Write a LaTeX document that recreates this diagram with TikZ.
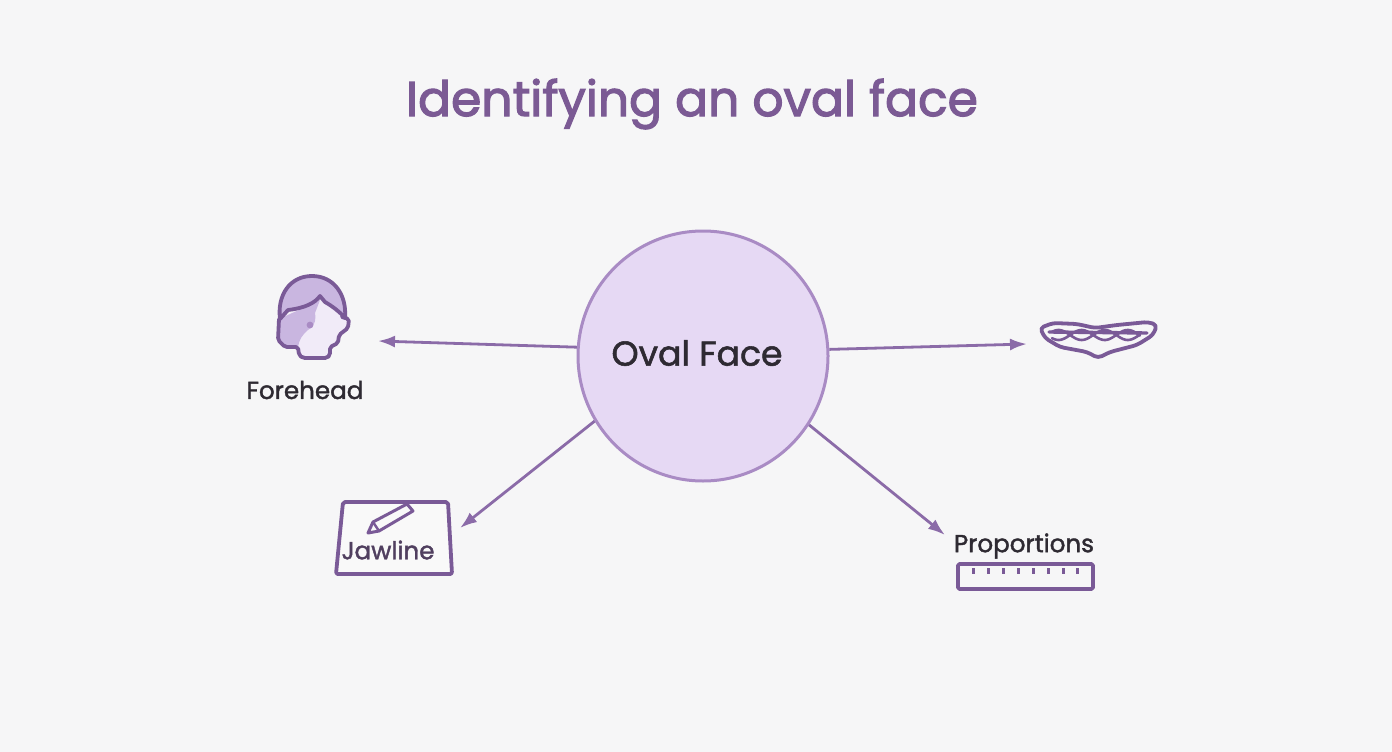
\documentclass[tikz,border=0pt]{standalone}
\usepackage{fontspec}
\setmainfont{Poppins}
\newcommand{\heavy}{\addfontfeature{FakeBold=1.6}}
\usetikzlibrary{arrows.meta}
\definecolor{bgcol}{HTML}{F6F6F7}
\definecolor{circfill}{HTML}{E6D9F4}
\definecolor{circline}{HTML}{A98BC4}
\definecolor{arrowcol}{HTML}{8B6BA8}
\definecolor{iconcol}{HTML}{7A5A97}
\definecolor{hairfill}{HTML}{C9B6E0}
\definecolor{skinfill}{HTML}{F1EBF8}
\definecolor{titlecol}{HTML}{7B5A94}
\definecolor{textcol}{HTML}{2E2A32}
\begin{document}
\begin{tikzpicture}[x=1pt, y=-1pt,
  lbl/.style={font=\fontsize{24.6}{28}\selectfont\heavy, text=textcol, inner sep=0pt},
  conn/.style={-{Latex[length=17pt,width=12pt]}, line width=2.8pt, draw=arrowcol},
  icon/.style={line width=3.8pt, draw=iconcol, line join=round, line cap=round}]
\useasboundingbox (0,0) rectangle (1392,752);
\fill[bgcol] (0,0) rectangle (1392,752);
\node[inner sep=0pt, text=titlecol, font=\fontsize{48.8}{54}\selectfont\addfontfeature{FakeBold=2.4}] (Title) at (692,104) {Identifying an oval face};
\node[circle, draw=circline, fill=circfill, line width=3pt, minimum size=250pt, inner sep=0pt] (N0) at (703,356) {};
\node[inner sep=0pt, text=textcol, font=\fontsize{34.6}{40}\selectfont\heavy] (Centre) at (697,353) {Oval Face};
\coordinate (E1) at (378,341);
\coordinate (E2) at (1027,344);
\coordinate (E3) at (460,528);
\coordinate (E4) at (945,535);
\draw[conn] (N0.176.8) -- (E1);
\draw[conn] (N0.3.6) -- (E2);
\draw[conn] (N0.211.7) -- (E3);
\draw[conn] (N0.327) -- (E4);
% head
\fill[skinfill] (278,320) -- (278,340) -- (285,347) -- (298,347) -- (299,355) -- (303,358) -- (327,358) -- (330,355) -- (330,347) -- (338,343) -- (339,335) -- (348,328) -- (349,319) -- (342,317) -- (320,296) -- (280,319) -- cycle;
\fill[hairfill] (279,319) -- (278,340) -- (285,347) -- (298,347) .. controls (299,340) and (302,335) .. (308,330) .. controls (316,325) and (316,318) .. (315,313) -- (320,300) -- (310,305) -- cycle;
\fill[hairfill, draw=iconcol, line width=3.8pt, line join=round] (280,319) .. controls (277,295) and (290,276) .. (312,276) .. controls (334,276) and (347,295) .. (345,318) .. controls (340,312) and (332,306) .. (325,302) -- (320,296) .. controls (315,303) and (305,308) .. (288,310) -- cycle;
\draw[icon, rounded corners=2pt] (279,319) -- (278,340) -- (285,347) -- (298,347) -- (299,355) -- (303,358) -- (327,358) -- (330,355) -- (330,347) -- (338,343) -- (339,335) -- (348,328) -- (349,319) -- (342,317);
\fill[circline] (310,325) circle (3.4);
\node[lbl] (Forehead) at (305,390) {Forehead};
% mouth
\draw[icon, rounded corners=4pt] (1040,328) -- (1053,323) -- (1077,324) -- (1095,328) -- (1117,325) -- (1148,322) -- (1157,325) -- (1153,335) -- (1137,345) -- (1110,352) -- (1098,358) -- (1087,352) -- (1060,347) -- (1045,338) -- cycle;
\draw[icon, line width=3.4pt] (1049,332) -- (1147,333);
\draw[icon, line width=2.6pt] plot[domain=1052:1140, samples=60, smooth] (\x,{335+5*sin((\x-1047)*7.8)});
\draw[icon, line width=2.6pt] plot[domain=1052:1140, samples=60, smooth] (\x,{335-5*sin((\x-1047)*7.8)});
% jawline box
\draw[icon, fill=white!30!bgcol, rounded corners=2pt] (343,502) -- (448,502) -- (452,574) -- (336,574) -- cycle;
\draw[icon, line width=3pt] (368,533) -- (373,522) -- (407,504) -- (413,511) -- (379,531) -- cycle;
\draw[icon, line width=2.4pt] (373,522) -- (379,531);
\node[lbl, text=iconcol!45!textcol] (Jawline) at (388,550) {Jawline};
% ruler
\node[lbl] (Proportions) at (1024,546) {Proportions};
\draw[icon, rounded corners=1.5pt] (958,564) rectangle (1093,589);
\foreach \x in {973,988,1003,1018,1033,1048,1063,1077}
  \draw[line width=3pt, draw=iconcol] (\x,568) -- (\x,574);
\end{tikzpicture}
\end{document}
